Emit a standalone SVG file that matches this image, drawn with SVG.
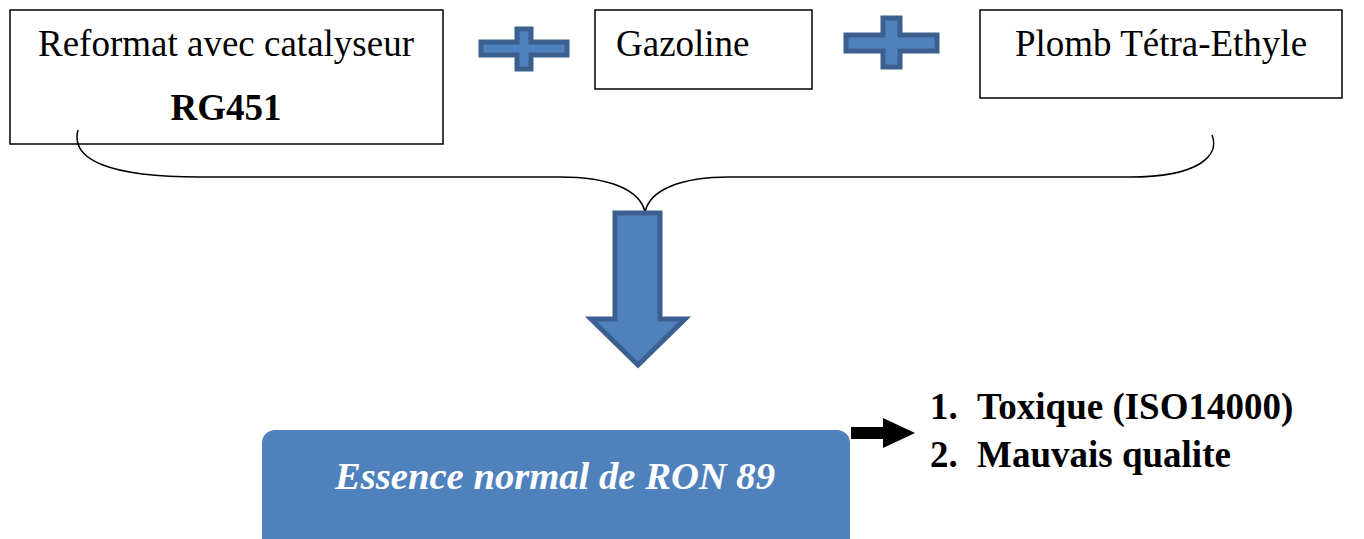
<svg xmlns="http://www.w3.org/2000/svg" width="1364" height="539" viewBox="0 0 1364 539">
  <style>
    .box { fill: #ffffff; stroke: #000000; stroke-width: 1.5; }
    .lbl { font-family: "Liberation Serif", serif; font-size: 37px; fill: #000000; }
    .bold { font-weight: bold; }
    .blue { fill: #4f81bd; stroke: #3b6090; stroke-width: 5; stroke-linejoin: miter; }
    .brace { fill: none; stroke: #000000; stroke-width: 1.5; }
  </style>
  <rect width="1364" height="539" fill="#ffffff"/>

  <g id="reformat">
    <rect class="box" x="10" y="10" width="433" height="134"/>
    <text class="lbl" x="226" y="56" text-anchor="middle">Reformat avec catalyseur</text>
    <text class="lbl bold" x="226" y="120" text-anchor="middle">RG451</text>
  </g>

  <g id="plus1">
    <path class="blue" d="M517 29 H531 V42 H567 V55 H531 V69 H517 V55 H481 V42 H517 Z"/>
  </g>

  <g id="gazoline">
    <rect class="box" x="595" y="10" width="217" height="79"/>
    <text class="lbl" x="616" y="56">Gazoline</text>
  </g>

  <g id="plus2">
    <path class="blue" d="M883 18 H900 V35 H937 V51 H900 V67 H883 V51 H846 V35 H883 Z"/>
  </g>

  <g id="plomb">
    <rect class="box" x="980" y="10" width="362" height="88"/>
    <text class="lbl" x="1161" y="56" text-anchor="middle">Plomb Tétra-Ethyle</text>
  </g>

  <g id="connectors">
    <!-- curly brace gathering the three inputs -->
    <path class="brace" d="M78 130 C70 160 110 177 200 177 H560 C610 177 640 190 645 212 C650 190 680 177 730 177 H1130 C1200 177 1220 155 1212 135"/>
    <!-- big down arrow -->
    <path class="blue" d="M615 213 H660 V319 H685 L638 365 L591 319 H615 Z"/>
    <!-- small black arrow to the list -->
    <path d="M851 427 H883 V418 L915 433 L883 448 V439 H851 Z" fill="#000000"/>
  </g>

  <g id="essence">
    <rect x="262" y="430" width="588" height="130" rx="13" ry="13" fill="#4f81bd"/>
    <text x="555" y="489" text-anchor="middle" font-family="'Liberation Serif', serif" font-style="italic" font-weight="bold" font-size="38" fill="#ffffff" textLength="440" lengthAdjust="spacingAndGlyphs">Essence normal de RON 89</text>
  </g>

  <g id="remarks">
    <text class="lbl bold" x="930" y="419">1.</text>
    <text class="lbl bold" x="977" y="419">Toxique (ISO14000)</text>
    <text class="lbl bold" x="930" y="467">2.</text>
    <text class="lbl bold" x="977" y="467">Mauvais qualite</text>
  </g>
</svg>
